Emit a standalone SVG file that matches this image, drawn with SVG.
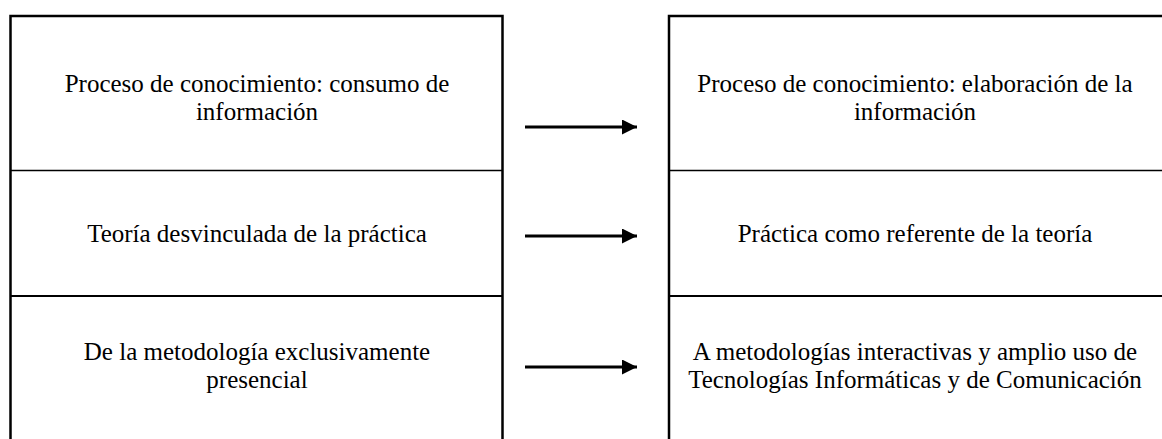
<svg xmlns="http://www.w3.org/2000/svg" width="1162" height="439" viewBox="0 0 1162 439">
<style>
.frame{fill:none;stroke:#000;stroke-width:2.5}
.sep{stroke:#000;stroke-width:1.5}
.sep2{stroke:#000;stroke-width:2}
.t{font-family:"Liberation Serif","Times New Roman",serif;font-size:25px;fill:#000;text-anchor:middle}
.arr{stroke:#000;stroke-width:3;fill:none}
</style>
<defs>
<marker id="ah" markerUnits="userSpaceOnUse" markerWidth="16" markerHeight="16" refX="15" refY="7.5" orient="auto">
<path d="M0,0 L15,7.5 L0,15 Z" fill="#000"/>
</marker>
</defs>
<rect width="1162" height="439" fill="#fff"/>
<g id="left-column">
<path class="frame" d="M10.5,440 V16 H502.5 V440"/>
<line class="sep" x1="10" y1="170.5" x2="503" y2="170.5"/>
<line class="sep2" x1="10" y1="296" x2="503" y2="296"/>
</g>
<g id="right-column">
<path class="frame" d="M669,440 V16 H1163"/>
<line class="sep" x1="669" y1="170.5" x2="1162" y2="170.5"/>
<line class="sep2" x1="669" y1="296" x2="1162" y2="296"/>
</g>
<g id="node-l1"><text class="t" x="257" y="92">Proceso de conocimiento: consumo de</text><text class="t" x="257" y="120">información</text></g>
<g id="node-l2"><text class="t" x="257" y="242">Teoría desvinculada de la práctica</text></g>
<g id="node-l3"><text class="t" x="257" y="360">De la metodología exclusivamente</text><text class="t" x="257" y="388">presencial</text></g>
<g id="node-r1"><text class="t" x="915" y="92">Proceso de conocimiento: elaboración de la</text><text class="t" x="915" y="120">información</text></g>
<g id="node-r2"><text class="t" x="915" y="242">Práctica como referente de la teoría</text></g>
<g id="node-r3"><text class="t" x="915" y="360">A metodologías interactivas y amplio uso de</text><text class="t" x="915" y="388">Tecnologías Informáticas y de Comunicación</text></g>
<g id="connectors">
<line class="arr" x1="525" y1="127" x2="637" y2="127" marker-end="url(#ah)"/>
<line class="arr" x1="525" y1="236" x2="637" y2="236" marker-end="url(#ah)"/>
<line class="arr" x1="525" y1="367" x2="637" y2="367" marker-end="url(#ah)"/>
</g>
</svg>
